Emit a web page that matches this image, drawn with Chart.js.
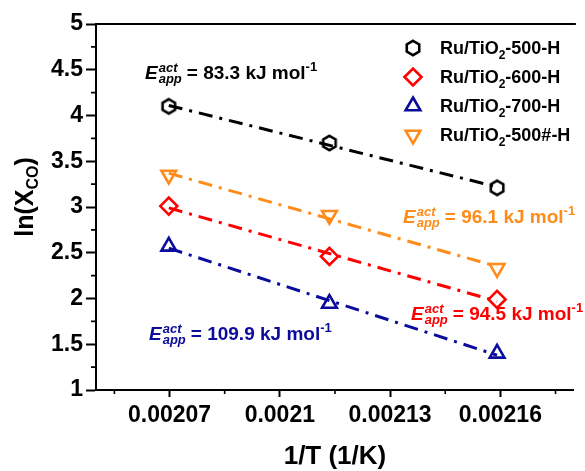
<!DOCTYPE html>
<html lang="en">
<head>
    <meta charset="UTF-8">
    <title>Arrhenius plot - Ru/TiO2</title>
    <script src="https://cdn.jsdelivr.net/npm/chart.js@4.4.1/dist/chart.umd.min.js"></script>
    <style>
        body { margin: 0; background: #fff; }
        #wrap { width: 585px; height: 471px; }
    </style>
</head>
<body>
    <div id="wrap">
        <canvas id="arrhenius" width="585" height="471"></canvas>
    </div>
    <script>
        // 1/T for the three reaction temperatures (210, 200, 190 C)
        const invT = [0.0020698, 0.0021135, 0.0021591];

        // ln(X_CO) for each catalyst
        const lnX500 = [4.10, 3.70, 3.21];
        const lnX600 = [3.01, 2.46, 1.99];
        const lnX700 = [2.57, 1.945, 1.40];
        const lnX500s = [3.35, 2.91, 2.33];

        // linear fit values at first and last 1/T
        const fit500 = [4.11, 3.22];
        const fit600 = [2.99, 1.97];
        const fit700 = [2.55, 1.38];
        const fit500s = [3.37, 2.35];

        const seriesNames = ['500-H', '600-H', '700-H', '500#-H'];
        const eaValues = ['83.3', '94.5', '109.9', '96.1'];

        const xTicks = [0.00207, 0.0021, 0.00213, 0.00216];
        const xTickLabels = ['0.00207', '0.0021', '0.00213', '0.00216'];
        const yTicks = [1, 1.5, 2, 2.5, 3, 3.5, 4, 4.5, 5];
        const yTickLabels = ['1', '1.5', '2', '2.5', '3', '3.5', '4', '4.5', '5'];

        const BLACK = '#000000';
        const RED = '#ff0000';
        const BLUE = '#0c0c9c';
        const ORANGE = '#ff8c1a';
        const FONT = '"Liberation Sans", Arial, sans-serif';

        // hollow hexagon marker (Chart.js has no hexagon point style)
        function hexagonImage(color) {
            const c = document.createElement('canvas');
            c.width = 22; c.height = 22;
            const g = c.getContext('2d');
            g.strokeStyle = color;
            g.lineWidth = 2.6;
            g.beginPath();
            for (let i = 0; i < 6; i++) {
                const a = -Math.PI / 2 + i * Math.PI / 3;
                const px = 11 + 7.2 * Math.cos(a), py = 11 + 7.2 * Math.sin(a);
                if (i === 0) g.moveTo(px, py); else g.lineTo(px, py);
            }
            g.closePath();
            g.stroke();
            return c;
        }
        const hexBlack = hexagonImage(BLACK);

        function pts(ys) { return ys.map((y, i) => ({ x: invT[i], y: y })); }
        function fitPts(f) { return [{ x: invT[0], y: f[0] }, { x: invT[invT.length - 1], y: f[1] }]; }

        const markerSets = [
            { data: lnX500, color: BLACK, style: hexBlack, radius: 8, rotation: 0 },
            { data: lnX600, color: RED, style: 'rectRot', radius: 8.5, rotation: 0 },
            { data: lnX700, color: BLUE, style: 'triangle', radius: 8.5, rotation: 0 },
            { data: lnX500s, color: ORANGE, style: 'triangle', radius: 8.5, rotation: 180 }
        ];
        const fitSets = [
            { data: fit500, color: BLACK },
            { data: fit600, color: RED },
            { data: fit700, color: BLUE },
            { data: fit500s, color: ORANGE }
        ];

        const datasets = [];
        markerSets.forEach((m, i) => {
            datasets.push({
                label: 'Ru/TiO2-' + seriesNames[i],
                data: pts(m.data),
                showLine: false,
                pointStyle: m.style,
                pointRadius: m.radius,
                pointRotation: m.rotation,
                pointBorderWidth: 2.6,
                pointBorderColor: m.color,
                pointBackgroundColor: 'rgba(0,0,0,0)',
                order: 1
            });
        });
        fitSets.forEach(f => {
            datasets.push({
                data: fitPts(f.data),
                showLine: true,
                pointRadius: 0,
                borderColor: f.color,
                borderWidth: 3,
                borderDash: [14, 7, 3, 7],
                order: 2
            });
        });

        // draws text pieces with sub/superscripts, returns end x
        function drawRuns(ctx, x, y, runs) {
            runs.forEach(r => {
                ctx.font = r.font;
                ctx.fillText(r.text, x, y + (r.dy || 0));
                x += ctx.measureText(r.text).width;
            });
            return x;
        }

        function drawEa(ctx, x, y, color, value) {
            ctx.fillStyle = color;
            ctx.textAlign = 'left';
            ctx.textBaseline = 'alphabetic';
            ctx.font = 'italic bold 19px ' + FONT;
            ctx.fillText('E', x, y);
            const ex = x + ctx.measureText('E').width + 1;
            ctx.font = 'italic bold 13px ' + FONT;
            ctx.fillText('act', ex, y - 7);
            ctx.fillText('app', ex, y + 4);
            const sx = ex + Math.max(ctx.measureText('act').width, ctx.measureText('app').width);
            drawRuns(ctx, sx + 5, y, [
                { text: '= ' + value + ' kJ mol', font: 'bold 19px ' + FONT },
                { text: '-1', font: 'bold 13px ' + FONT, dy: -8 }
            ]);
        }

        function drawMarker(ctx, m, x, y) {
            ctx.save();
            ctx.strokeStyle = m.color;
            ctx.lineWidth = 2.6;
            const r = m.radius;
            if (m.style === hexBlack) {
                ctx.drawImage(hexBlack, x - 11, y - 11);
            } else if (m.style === 'rectRot') {
                ctx.beginPath();
                ctx.moveTo(x - r, y); ctx.lineTo(x, y - r); ctx.lineTo(x + r, y); ctx.lineTo(x, y + r);
                ctx.closePath(); ctx.stroke();
            } else {
                const s = m.rotation ? -1 : 1;
                ctx.beginPath();
                ctx.moveTo(x, y - s * r);
                ctx.lineTo(x + r * 0.866, y + s * r / 2);
                ctx.lineTo(x - r * 0.866, y + s * r / 2);
                ctx.closePath(); ctx.stroke();
            }
            ctx.restore();
        }

        const decor = {
            id: 'decor',
            afterDraw(chart) {
                const ctx = chart.ctx;
                const area = chart.chartArea;
                const xs = chart.scales.x, ys = chart.scales.y;
                ctx.save();

                // top frame line
                ctx.strokeStyle = BLACK;
                ctx.lineWidth = 2;
                ctx.beginPath();
                ctx.moveTo(area.left - 1, area.top);
                ctx.lineTo(area.right + 2, area.top);
                ctx.stroke();

                // minor ticks halfway between the majors
                ctx.lineWidth = 1.6;
                ctx.beginPath();
                for (let i = 0; i < yTicks.length - 1; i++) {
                    const py = ys.getPixelForValue((yTicks[i] + yTicks[i + 1]) / 2);
                    ctx.moveTo(area.left - 5, py); ctx.lineTo(area.left, py);
                }
                const step = xTicks[1] - xTicks[0];
                for (let v = xTicks[0] - step / 2; v < xs.max; v += step) {
                    const px = xs.getPixelForValue(v);
                    ctx.moveTo(px, area.bottom); ctx.lineTo(px, area.bottom + 4);
                }
                ctx.stroke();

                // axis titles
                ctx.fillStyle = BLACK;
                ctx.textBaseline = 'alphabetic';
                ctx.textAlign = 'center';
                ctx.font = 'bold 26px ' + FONT;
                ctx.fillText('1/T (1/K)', (area.left + area.right) / 2, 464);

                ctx.textAlign = 'left';
                ctx.save();
                ctx.translate(33, 197);
                ctx.rotate(-Math.PI / 2);
                const yRuns = [
                    { text: 'ln(X', font: 'bold 25px ' + FONT },
                    { text: 'CO', font: 'bold 16px ' + FONT, dy: 5 },
                    { text: ')', font: 'bold 25px ' + FONT }
                ];
                let w = 0;
                yRuns.forEach(r => { ctx.font = r.font; w += ctx.measureText(r.text).width; });
                drawRuns(ctx, -w / 2, 0, yRuns);
                ctx.restore();

                // legend
                markerSets.forEach((m, i) => {
                    const cy = 48 + i * 29;
                    drawMarker(ctx, m, 413, cy);
                    ctx.fillStyle = BLACK;
                    drawRuns(ctx, 440, cy + 6, [
                        { text: 'Ru/TiO', font: 'bold 18px ' + FONT },
                        { text: '2', font: 'bold 12px ' + FONT, dy: 5 },
                        { text: '-' + seriesNames[i], font: 'bold 18px ' + FONT }
                    ]);
                });

                // activation energy labels
                drawEa(ctx, 145, 79, BLACK, eaValues[0]);
                drawEa(ctx, 403, 223, ORANGE, eaValues[3]);
                drawEa(ctx, 411, 320, RED, eaValues[1]);
                drawEa(ctx, 149, 340, BLUE, eaValues[2]);

                ctx.restore();
            }
        };

        new Chart(document.getElementById('arrhenius'), {
            type: 'scatter',
            data: { datasets: datasets },
            options: {
                responsive: false,
                devicePixelRatio: 1,
                animation: false,
                layout: { padding: { top: 24, right: 0, left: 0, bottom: 0 } },
                plugins: {
                    legend: { display: false },
                    tooltip: { enabled: false }
                },
                scales: {
                    x: {
                        type: 'linear',
                        min: 0.00205,
                        max: 0.00218,
                        afterBuildTicks: s => { s.ticks = xTicks.map(v => ({ value: v })); },
                        afterFit: s => { s.height = 81; },
                        border: { color: BLACK, width: 2 },
                        grid: { drawOnChartArea: false, tickLength: 7, tickWidth: 2, tickColor: BLACK },
                        ticks: {
                            color: BLACK,
                            padding: 5,
                            maxRotation: 0,
                            font: { family: FONT, size: 23, weight: 'bold' },
                            callback: (v, i) => xTickLabels[i]
                        }
                    },
                    y: {
                        min: 1,
                        max: 5,
                        afterBuildTicks: s => { s.ticks = yTicks.map(v => ({ value: v })); },
                        afterFit: s => { s.width = 96; },
                        border: { color: BLACK, width: 2 },
                        grid: { drawOnChartArea: false, tickLength: 10, tickWidth: 2, tickColor: BLACK },
                        ticks: {
                            color: BLACK,
                            padding: 3,
                            font: { family: FONT, size: 23, weight: 'bold' },
                            callback: (v, i) => yTickLabels[i]
                        }
                    }
                }
            },
            plugins: [decor]
        });
    </script>
</body>
</html>
